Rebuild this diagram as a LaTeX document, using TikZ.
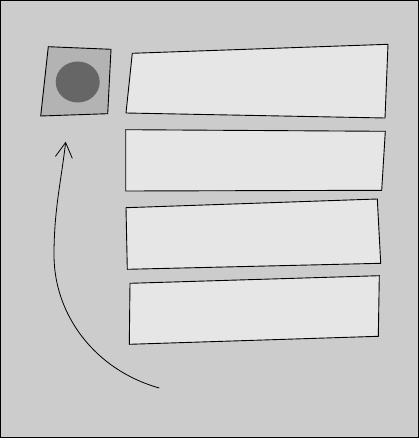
\documentclass[tikz,border=0pt]{standalone}
\usetikzlibrary{arrows.meta}
\definecolor{bg}{HTML}{CCCCCC}
\definecolor{panel}{HTML}{E6E6E6}
\definecolor{sq}{HTML}{B3B3B3}
\definecolor{dot}{HTML}{666666}
\tikzset{
  panelbox/.style={draw=black, fill=panel, line width=0.9pt, line join=miter},
  iconbox/.style={draw=black, fill=sq, line width=0.9pt},
  curvearrow/.style={draw=black, line width=0.8pt, -{Straight Barb[length=15pt,width=17pt,line width=0.8pt]}}
}
\begin{document}
\begin{tikzpicture}[x=1pt,y=-1pt]
\useasboundingbox (0,0) rectangle (419,438);
\fill[bg] (0,0) rectangle (419,438);
\draw[line width=1pt] (0.5,0.5) rectangle (418.5,437.5);
% icon square
\path[iconbox] (48.3,46.7) -- (111,49.3) -- (107.7,113.7) -- (40.7,116) -- cycle;
\fill[dot] (77.7,82) ellipse [x radius=22, y radius=20.5];
\coordinate (icon) at (77.7,82);
% panels
\path[panelbox] (132.3,53.3) -- (388,44.3) -- (385,118) -- (126,113) -- cycle;
\path[panelbox] (125.7,129.7) -- (385.3,131.3) -- (381.7,190.3) -- (125.7,191) -- cycle;
\path[panelbox] (126,207.7) -- (377.3,199) -- (380.7,263.3) -- (127.3,269.3) -- cycle;
\path[panelbox] (130,283.3) -- (379.3,275.7) -- (378.3,336.3) -- (129.3,344.3) -- cycle;
% arrow
\coordinate (start) at (159.3,388);
\coordinate (bend) at (54,255);
\coordinate (tip) at (65.7,141.7);
\draw[curvearrow] (start) .. controls (95,370) and (54,315) .. (bend)
  .. controls (54,210) and (61,182) .. (tip);
\end{tikzpicture}
\end{document}
